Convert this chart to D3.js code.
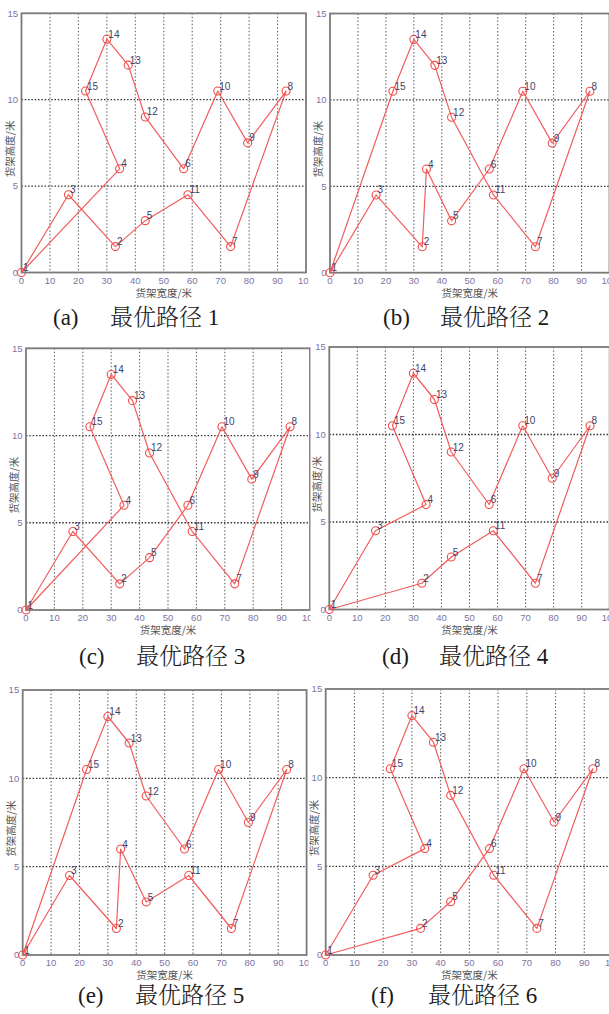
<!DOCTYPE html>
<html>
<head>
<meta charset="utf-8">
<script src="https://cdn.jsdelivr.net/npm/d3@7"></script>
<style>
  body{margin:0;background:#fff}
  svg{display:block}
</style>
</head>
<body>
<script>

// shelf positions, index = point number - 1
var pointX = [0, 33, 16.5, 34.5, 43.5, 57, 73.5, 93, 79.5, 69, 58.5, 43.5, 37.5, 30, 22.5]
var pointY = [0, 1.5, 4.5, 6, 3, 6, 1.5, 10.5, 7.5, 10.5, 4.5, 9, 12, 13.5, 10.5]

// visiting order of each optimal route
var route1 = [1, 3, 2, 5, 11, 7, 8, 9, 10, 6, 12, 13, 14, 15, 4, 1]
var route2 = [1, 3, 2, 4, 5, 6, 10, 9, 8, 7, 11, 12, 13, 14, 15, 1]
var route3 = [1, 3, 2, 5, 6, 10, 9, 8, 7, 11, 12, 13, 14, 15, 4, 1]
var route4 = [1, 3, 4, 15, 14, 13, 12, 6, 10, 9, 8, 7, 11, 5, 2, 1]
var route5 = [1, 3, 2, 4, 5, 11, 7, 8, 9, 10, 6, 12, 13, 14, 15, 1]
var route6 = [1, 3, 4, 15, 14, 13, 12, 11, 7, 8, 9, 10, 6, 5, 2, 1]

var xTicks = [0, 10, 20, 30, 40, 50, 60, 70, 80, 90, 100]
var yTicks = [0, 5, 10, 15]
var captionTags = ['(a)', '(b)', '(c)', '(d)', '(e)', '(f)']
var captionTexts = ['最优路径 1', '最优路径 2', '最优路径 3', '最优路径 4', '最优路径 5', '最优路径 6']
var xLabel = '货架宽度/米'
var yLabel = '货架高度/米'

var routes = [route1, route2, route3, route4, route5, route6]

// where each cropped figure sits on the page
var layout = [
  {l: 21.5,  r: 306,   t: 13.3,  b: 272.5, clipL: 0,   clipR: 308.5, capX: 53,  capY: 325},
  {l: 330,   r: 609.5, t: 13.5,  b: 272.7, clipL: 309, clipR: 609,   capX: 383, capY: 325},
  {l: 26,    r: 310,   t: 348.3, b: 610,   clipL: 0,   clipR: 310.5, capX: 79,  capY: 664},
  {l: 329.3, r: 609.7, t: 347,   b: 609.5, clipL: 311, clipR: 609,   capX: 382, capY: 664},
  {l: 22.7,  r: 306.6, t: 690,   b: 955,   clipL: 0,   clipR: 308.5, capX: 78,  capY: 1003},
  {l: 325.7, r: 613,   t: 689,   b: 955,   clipL: 309, clipR: 609,   capX: 371, capY: 1003}
]

var svg = d3.select('body').append('svg')
  .attr('width', 609).attr('height', 1014)

svg.append('rect').attr('width', 609).attr('height', 1014).attr('fill', '#fff')

var tickFont = "'Liberation Sans', Arial, sans-serif"
var cjkFont = "'Noto Sans CJK SC', sans-serif"

layout.forEach(function(p, i){
  var x = d3.scaleLinear().domain([0, 100]).range([p.l, p.r])
  var y = d3.scaleLinear().domain([0, 15]).range([p.b, p.t])

  var clipId = 'clip' + i
  svg.append('clipPath').attr('id', clipId)
    .append('rect')
    .attr('x', p.clipL).attr('y', p.t - 14)
    .attr('width', p.clipR - p.clipL).attr('height', p.b - p.t + 45)

  var g = svg.append('g').attr('clip-path', 'url(#' + clipId + ')')

  // grid
  g.selectAll('line.vgrid').data(xTicks.slice(1, -1)).join('line')
    .attr('class', 'vgrid')
    .attr('x1', d => x(d)).attr('x2', d => x(d))
    .attr('y1', p.t).attr('y2', p.b)
    .attr('stroke', '#6a6a6a').attr('stroke-width', 1.1)
    .attr('stroke-dasharray', '1.5,2')

  g.selectAll('line.hgrid').data(yTicks.slice(1, -1)).join('line')
    .attr('class', 'hgrid')
    .attr('x1', p.l).attr('x2', p.r)
    .attr('y1', d => y(d)).attr('y2', d => y(d))
    .attr('stroke', '#333').attr('stroke-width', 1.3)
    .attr('stroke-dasharray', '1.5,1.8')

  // axes box
  g.append('rect')
    .attr('x', p.l).attr('y', p.t)
    .attr('width', p.r - p.l).attr('height', p.b - p.t)
    .attr('fill', 'none').attr('stroke', '#7a7a7a').attr('stroke-width', 1.8)

  // tick labels
  g.selectAll('text.xt').data(xTicks).join('text')
    .attr('class', 'xt')
    .attr('x', d => x(d)).attr('y', p.b + 11)
    .attr('text-anchor', 'middle')
    .attr('font-family', tickFont).attr('font-size', 9.5)
    .attr('fill', '#7d73a3')
    .text(d => d)

  g.selectAll('text.yt').data(yTicks).join('text')
    .attr('class', 'yt')
    .attr('x', p.l - 3.5).attr('y', d => y(d) + 3.3)
    .attr('text-anchor', 'end')
    .attr('font-family', tickFont).attr('font-size', 9.5)
    .attr('fill', '#7d73a3')
    .text(d => d)

  // axis titles
  g.append('text')
    .attr('x', (p.l + p.r) / 2).attr('y', p.b + 24)
    .attr('text-anchor', 'middle')
    .attr('font-family', cjkFont).attr('font-size', 10.5)
    .attr('fill', '#555')
    .text(xLabel)

  g.append('text')
    .attr('transform', 'translate(' + (p.l - 8) + ',' + ((p.t + p.b) / 2 + 6) + ') rotate(-90)')
    .attr('text-anchor', 'middle')
    .attr('font-family', cjkFont).attr('font-size', 10.5)
    .attr('fill', '#555')
    .text(yLabel)

  // route
  var line = d3.line()
    .x(d => x(pointX[d - 1]))
    .y(d => y(pointY[d - 1]))

  g.append('path')
    .datum(routes[i])
    .attr('d', line)
    .attr('fill', 'none')
    .attr('stroke', '#f25c5c').attr('stroke-width', 1.2)
    .attr('stroke-linejoin', 'round')

  var pts = d3.range(1, 16)

  g.selectAll('circle').data(pts).join('circle')
    .attr('cx', d => x(pointX[d - 1])).attr('cy', d => y(pointY[d - 1]))
    .attr('r', 4)
    .attr('fill', 'none').attr('stroke', '#f04a4a').attr('stroke-width', 1.1)

  g.selectAll('text.pl').data(pts).join('text')
    .attr('class', 'pl')
    .attr('x', d => x(pointX[d - 1]) + 1.5).attr('y', d => y(pointY[d - 1]) - 1.5)
    .attr('font-family', tickFont).attr('font-size', 10)
    .attr('fill', '#3f3f66')
    .text(d => d)

  // caption under the figure
  var cap = svg.append('text')
    .attr('y', p.capY)
    .attr('font-family', "'Liberation Serif', 'Noto Serif CJK SC', 'Noto Sans CJK SC', serif")
    .attr('font-size', 23)
    .attr('font-weight', 300)
    .attr('fill', '#1a1a1a')
  cap.append('tspan').attr('x', p.capX).text(captionTags[i])
  cap.append('tspan').attr('x', p.capX + 57).text(captionTexts[i])
})

</script>
</body>
</html>
